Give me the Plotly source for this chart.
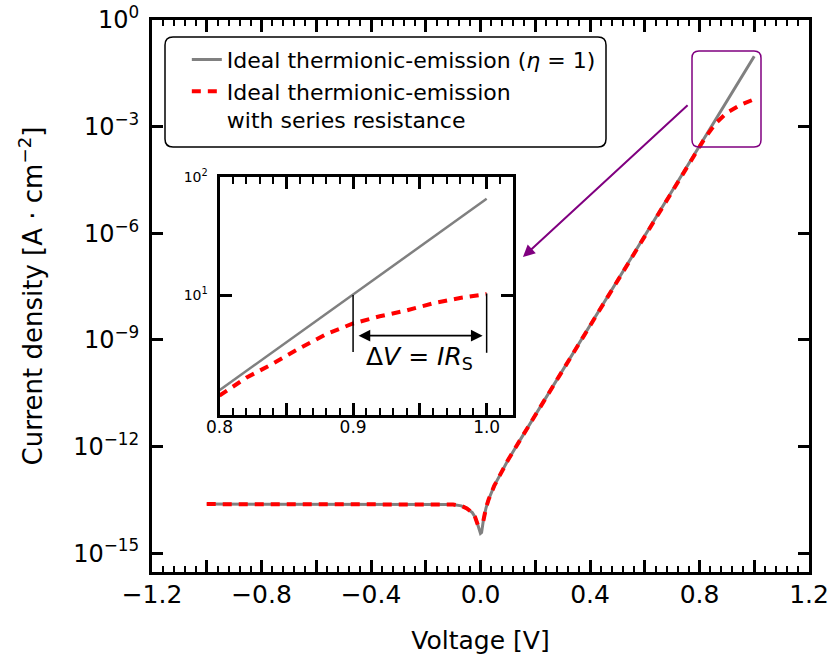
import math
import plotly.graph_objects as go

# ---------------- data ----------------
voltage_ideal = [-1.0, -0.2, -0.1, -0.07, -0.05, -0.03, -0.02, -0.01, -0.004, 0.0, 0.004,
                 0.01, 0.02, 0.03, 0.05, 0.075, 0.1, 0.15, 0.2, 0.3, 0.5, 0.8, 1.0]
current_ideal = [2.4e-14, 2.4e-14, 2.34e-14, 2.14e-14, 1.82e-14, 1.38e-14, 1.05e-14, 6.3e-15,
                 4.0e-15, 3.6e-15, 3.8e-15, 7.9e-15, 1.86e-14, 3.3e-14, 7.8e-14, 1.82e-13,
                 4.1e-13, 1.78e-12, 7.6e-12, 1.38e-10, 4.7e-8, 2.9e-4, 9.5e-2]

voltage_rs = [-1.0, -0.2, -0.1, -0.07, -0.05, -0.03, -0.02, -0.01, 0.01, 0.02, 0.03, 0.05,
              0.075, 0.1, 0.15, 0.2, 0.3, 0.5, 0.78, 0.82, 0.86, 0.9, 0.95, 1.0]
current_rs = [2.4e-14, 2.4e-14, 2.34e-14, 2.14e-14, 1.82e-14, 1.38e-14, 1.05e-14, 6.3e-15,
              7.9e-15, 1.86e-14, 3.3e-14, 7.8e-14, 1.82e-13, 4.1e-13, 1.78e-12, 7.6e-12,
              1.38e-10, 4.7e-8, 1.6e-4, 4.8e-4, 1.26e-3, 2.45e-3, 4.1e-3, 5.9e-3]

inset_voltage_ideal = [0.8, 1.0]
inset_current_ideal = [1.57, 65.0]
inset_voltage_rs = [0.8, 0.82, 0.84, 0.86, 0.88, 0.9, 0.92, 0.94, 0.96, 0.98, 1.0]
inset_current_rs = [1.41, 2.0, 2.63, 3.55, 4.68, 5.75, 6.61, 7.41, 8.51, 9.44, 10.2]

# delta-V marker lines in the inset
marker_left_v = [0.9, 0.9]
marker_left_j = [10.0, 3.3]
marker_right_v = [1.0, 1.0]
marker_right_j = [10.3, 3.25]
arrow_v = [0.903, 0.997]
arrow_j = 4.53
label_v = 0.95
label_j = 2.95

x_tickvals = [-1.2, -1.0, -0.8, -0.6, -0.4, -0.2, 0.0, 0.2, 0.4, 0.6, 0.8, 1.0, 1.2]
x_ticktext = ["\u22121.2", "", "\u22120.8", "", "\u22120.4", "", "0.0", "", "0.4", "", "0.8", "", "1.2"]
y_tickvals = [1e0, 1e-3, 1e-6, 1e-9, 1e-12, 1e-15]
y_ticktext = ["10<sup>0</sup>", "10<sup>\u22123</sup>", "10<sup>\u22126</sup>",
              "10<sup>\u22129</sup>", "10<sup>\u221212</sup>", "10<sup>\u221215</sup>"]
inset_x_tickvals = [0.8, 0.85, 0.9, 0.95, 1.0]
inset_x_ticktext = ["0.8", "", "0.9", "", "1.0"]
inset_y_tickvals = [10, 100]
inset_y_ticktext = ["10<sup>1</sup>", "10<sup>2</sup>"]

name_ideal = "Ideal thermionic-emission (<i>\u03b7</i> = 1)"
name_rs = "Ideal thermionic-emission<br>with series resistance"

# ---------------- layout geometry (screen pixels) ----------------
W, H = 832, 659
PL, PR, PT, PB = 152, 809, 20, 572
FONT = "DejaVu Sans, Liberation Sans, sans-serif"
GRAY = "#808080"
RED = "#ff0000"
PURPLE = "#800080"


def px2paper(px, py):
    return (px - PL) / (PR - PL), (PB - py) / (PB - PT)


def rounded_path(x0, y0, x1, y1, r):
    def P(px, py):
        a, b = px2paper(px, py)
        return f"{a:.5f},{b:.5f}"
    return (f"M {P(x0 + r, y0)} L {P(x1 - r, y0)} Q {P(x1, y0)} {P(x1, y0 + r)} "
            f"L {P(x1, y1 - r)} Q {P(x1, y1)} {P(x1 - r, y1)} "
            f"L {P(x0 + r, y1)} Q {P(x0, y1)} {P(x0, y1 - r)} "
            f"L {P(x0, y0 + r)} Q {P(x0, y0)} {P(x0 + r, y0)} Z")


fig = go.Figure()

fig.add_trace(go.Scatter(x=voltage_ideal, y=current_ideal, mode="lines", name=name_ideal,
                         line=dict(color=GRAY, width=3)))
fig.add_trace(go.Scatter(x=voltage_rs, y=current_rs, mode="lines", name=name_rs,
                         line=dict(color=RED, width=4, dash="9px,7px")))

fig.add_trace(go.Scatter(x=inset_voltage_ideal, y=inset_current_ideal, mode="lines",
                         showlegend=False, xaxis="x2", yaxis="y2",
                         line=dict(color=GRAY, width=2.5)))
fig.add_trace(go.Scatter(x=inset_voltage_rs, y=inset_current_rs, mode="lines",
                         showlegend=False, xaxis="x2", yaxis="y2",
                         line=dict(color=RED, width=4, dash="9px,7px")))
fig.add_trace(go.Scatter(x=marker_left_v, y=marker_left_j, mode="lines", showlegend=False,
                         xaxis="x2", yaxis="y2", line=dict(color="black", width=1.5)))
fig.add_trace(go.Scatter(x=marker_right_v, y=marker_right_j, mode="lines", showlegend=False,
                         xaxis="x2", yaxis="y2", line=dict(color="black", width=1.5)))

# inset domain
ix0, iy0 = px2paper(219.5, 415)
ix1, iy1 = px2paper(512.7, 176.7)

axis_common = dict(showline=True, linecolor="black", linewidth=3, mirror="ticks",
                   ticks="inside", tickcolor="black", showgrid=False, zeroline=False,
                   automargin=False)

fig.update_layout(
    template="none",
    width=W, height=H,
    margin=dict(l=PL, r=W - PR, t=PT, b=H - PB, autoexpand=False),
    paper_bgcolor="white", plot_bgcolor="white",
    font=dict(family=FONT, color="black"),
    showlegend=True,
    legend=dict(x=0.053, y=0.966, xanchor="left", yanchor="top", valign="top",
                bgcolor="rgba(0,0,0,0)", borderwidth=0,
                font=dict(family=FONT, size=22, color="black"),
                tracegroupgap=0),
    xaxis=dict(range=[-1.2, 1.2], tickmode="array", tickvals=x_tickvals, ticktext=x_ticktext,
               ticklen=12, tickwidth=2.5, tickfont=dict(size=25), ticklabelstandoff=-2,
               minor=dict(dtick=0.04, tick0=0, ticklen=6, tickwidth=2, ticks="inside",
                          tickcolor="black", showgrid=False),
               title=dict(text="Voltage [V]", font=dict(size=25), standoff=24),
               **axis_common),
    yaxis=dict(type="log", range=[-15.53, 0], tickmode="array", tickvals=y_tickvals,
               ticktext=y_ticktext, ticklen=11, tickwidth=2.5, tickfont=dict(size=24),
               ticklabelstandoff=5, ticklabeloverflow="allow",
               title=dict(text="Current density [A \u00b7 cm<sup>\u22122</sup>]",
                          font=dict(size=26), standoff=24),
               **axis_common),
    xaxis2=dict(domain=[ix0, ix1], anchor="y2", range=[0.8, 1.0195], tickmode="array",
                tickvals=inset_x_tickvals, ticktext=inset_x_ticktext, ticklen=12,
                tickwidth=2.5, tickfont=dict(size=17), ticklabelstandoff=-5,
                minor=dict(dtick=0.01, tick0=0, ticklen=7, tickwidth=2, ticks="inside",
                           tickcolor="black", showgrid=False),
                **axis_common),
    yaxis2=dict(domain=[iy0, iy1], anchor="x2", type="log", range=[-0.014, 2],
                tickmode="array", tickvals=inset_y_tickvals, ticktext=inset_y_ticktext,
                ticklen=12, tickwidth=2.5, tickfont=dict(size=14), ticklabelstandoff=6,
                **axis_common),
)

shapes = [
    dict(type="path", xref="paper", yref="paper", path=rounded_path(165, 37, 606, 147, 8),
         line=dict(color="black", width=1.5), fillcolor="rgba(0,0,0,0)", layer="above"),
    dict(type="path", xref="paper", yref="paper", path=rounded_path(692, 51, 761, 147, 7),
         line=dict(color=PURPLE, width=1.5), fillcolor="rgba(0,0,0,0)", layer="above"),
]
fig.update_layout(shapes=shapes)

annotations = [
    dict(x=0.155, y=-6.67, ax=0.762, ay=-2.36, xref="x", yref="y", axref="x", ayref="y",
         text="", showarrow=True, arrowhead=2, arrowsize=1.2, arrowwidth=2,
         arrowcolor=PURPLE, standoff=0),
    dict(x=arrow_v[1], y=math.log10(arrow_j), ax=arrow_v[0], ay=math.log10(arrow_j),
         xref="x2", yref="y2", axref="x2", ayref="y2", text="", showarrow=True,
         arrowside="end+start", arrowhead=2, startarrowhead=2, arrowsize=1.3,
         startarrowsize=1.3, arrowwidth=1.8, arrowcolor="black", standoff=0, startstandoff=0),
    dict(x=label_v, y=math.log10(label_j), xref="x2", yref="y2", showarrow=False,
         text="\u0394<i>V</i> = <i>IR</i><sub>S</sub>", font=dict(family=FONT, size=25)),
]
fig.update_layout(annotations=annotations)

# remove the browser's default 8px page margin so the figure sits at the window origin
fig.write_html("out.html", config={"displayModeBar": False},
               post_script="document.body.style.margin='0px';")
